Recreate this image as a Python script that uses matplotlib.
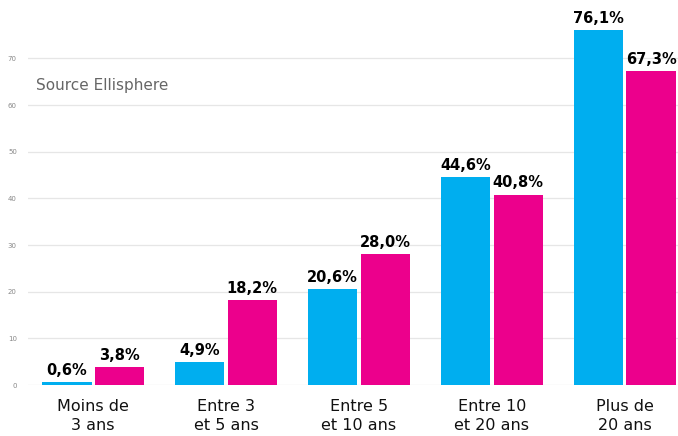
import numpy as np
import matplotlib.pyplot as plt

# Données
categories = ['Moins de\n3 ans', 'Entre 3\net 5 ans', 'Entre 5\net 10 ans',
              'Entre 10\net 20 ans', 'Plus de\n20 ans']
serie_bleue = [0.6, 4.9, 20.6, 44.6, 76.1]
serie_rose = [3.8, 18.2, 28.0, 40.8, 67.3]
yticks = [0, 10, 20, 30, 40, 50, 60, 70]

bleu = '#00AEEF'
rose = '#EC008C'

fig = plt.figure(figsize=(6.78, 4.36), dpi=100)
ax = fig.add_axes([28 / 678, 51 / 436, 1 - 28 / 678, 1 - 51 / 436])

x = np.arange(len(categories))
w = 0.37
gap = 0.012

b1 = ax.bar(x - w / 2 - gap, serie_bleue, width=w, color=bleu, zorder=3)
b2 = ax.bar(x + w / 2 + gap, serie_rose, width=w, color=rose, zorder=3)

# Étiquettes de valeurs
for bars, vals in ((b1, serie_bleue), (b2, serie_rose)):
    for b, v in zip(bars, vals):
        ax.annotate(f'{v:.1f}%'.replace('.', ','),
                    xy=(b.get_x() + b.get_width() / 2, v),
                    xytext=(0, 3), textcoords='offset points',
                    ha='center', va='bottom', fontsize=10.5,
                    fontweight='bold', color='black')

# Axes et grille
ax.set_ylim(0, 82.5)
ax.set_xlim(-0.49, 4.4)
ax.set_yticks(yticks)
ax.set_yticklabels([str(t) for t in yticks], fontsize=5, color='#888888')
ax.grid(axis='y', color='#e6e6e6', linewidth=0.9, zorder=0)
ax.set_xticks(x)
ax.set_xticklabels(categories, fontsize=11.5, color='#111111', linespacing=1.35)
ax.tick_params(axis='both', length=0)
ax.tick_params(axis='x', pad=10)
ax.tick_params(axis='y', pad=8)
for s in ax.spines.values():
    s.set_visible(False)

ax.text(0.012, 64.2, 'Source Ellisphere', fontsize=11, color='#666666',
        va='center', ha='left', transform=ax.get_yaxis_transform())

fig.savefig('out.png', dpi=100)
